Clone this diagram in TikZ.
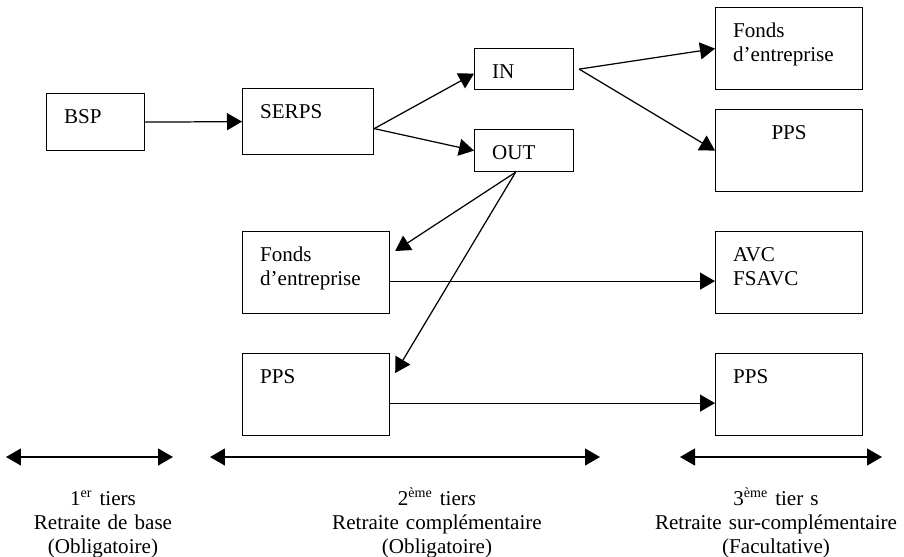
\documentclass[tikz,border=0pt]{standalone}
\usepackage{fontspec}
\setmainfont{Liberation Serif}
\usetikzlibrary{arrows.meta}

\begin{document}
\begin{tikzpicture}[
  x=0.02cm, y=-0.02cm,
  every node/.style={font=\fontsize{12}{13.8}\selectfont},
  box/.style={draw, line width=0.7pt, anchor=north west, inner xsep=0.35cm, inner ysep=0pt, align=left, text height=0.6cm},
  big_box/.style={box, text width=2.24cm, text depth=1.04cm},
  flow/.style={line width=0.7pt, -{Triangle[length=0.3cm,width=0.34cm]}},
  tier_range/.style={line width=0.7pt, {Triangle[length=0.3cm,width=0.34cm]}-{Triangle[length=0.3cm,width=0.34cm]}},
  tier_label/.style={anchor=base, inner sep=0pt, text width=6cm, align=center}
  ]
	\useasboundingbox (0,0) rectangle (904,556);

	\node[box, text width=1.26cm, text depth=0.54cm] (bsp) at (46,93) {BSP};
	\node[box, text width=1.92cm, text depth=0.72cm] (serps) at (242,88) {SERPS};
	\node[box, text width=1.28cm, text depth=0.22cm] (in) at (474,48) {IN};
	\node[box, text width=1.28cm, text depth=0.24cm] (out) at (474,129) {OUT};

	\node[big_box] (fonds2) at (242,231) {Fonds\\d’entreprise};
	\node[big_box] (pps2) at (242,353) {PPS};

	\node[big_box] (fonds3) at (715,7) {Fonds\\d’entreprise};
	\node[big_box, align=center] (pps3) at (715,109) {PPS};
	\node[big_box] (avc) at (715,231) {AVC\\FSAVC};
	\node[big_box] (pps3b) at (715,353) {PPS};

	\draw[flow] (bsp.east) -- (serps.west);
	\draw[flow] ([yshift=-0.14cm]serps.east) -- ([yshift=-0.09cm]in.west);
	\draw[flow] ([yshift=-0.14cm]serps.east) -- (out.west);

	\draw[flow] ([xshift=0.1cm]in.east) -- (fonds3.west);
	\draw[flow] ([xshift=0.1cm]in.east) -- (pps3.west);

	\draw[flow] ([xshift=-0.17cm]out.south) -- ([xshift=0.1cm,yshift=-0.4cm]fonds2.north east);
	\draw[flow] ([xshift=-0.17cm]out.south) -- ([xshift=0.1cm,yshift=-0.4cm]pps2.north east);

	\draw[flow] ([yshift=-0.17cm]fonds2.east) -- ([yshift=-0.17cm]avc.west);
	\draw[flow] ([yshift=-0.17cm]pps2.east) -- ([yshift=-0.17cm]pps3b.west);

	\coordinate (t1a) at (6,457);
	\coordinate (t1b) at (173,457);
	\coordinate (t2a) at (210,457);
	\coordinate (t2b) at (600,457);
	\coordinate (t3a) at (680,457);
	\coordinate (t3b) at (882,457);

	\draw[tier_range] (t1a) -- (t1b);
	\draw[tier_range] (t2a) -- (t2b);
	\draw[tier_range] (t3a) -- (t3b);

	\node[tier_label] (tier1) at (103,505) {1\textsuperscript{er} tiers\\Retraite de base\\(Obligatoire)};
	\node[tier_label] (tier2) at (437,505) {2\textsuperscript{ème} tier\textit{s}\\Retraite complémentaire\\(Obligatoire)};
	\node[tier_label] (tier3) at (776,505) {3\textsuperscript{ème} tier s\\Retraite sur-complémentaire\\(Facultative)};
\end{tikzpicture}
\end{document}
